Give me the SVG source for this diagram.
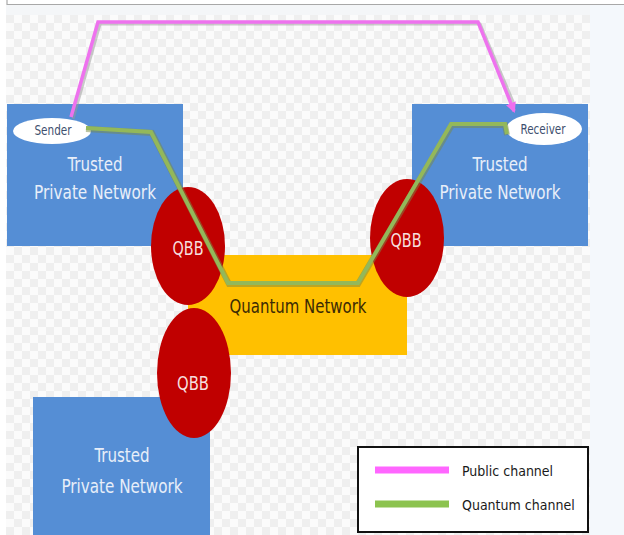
<svg xmlns="http://www.w3.org/2000/svg" width="624" height="535" viewBox="0 0 624 535">
<defs>
<pattern id="checker" x="6" y="15" width="16" height="16" patternUnits="userSpaceOnUse">
<rect width="16" height="16" fill="#fbfbfb"/>
<rect width="8" height="8" fill="#efefef"/>
<rect x="8" y="8" width="8" height="8" fill="#efefef"/>
</pattern>
<marker id="pinkArrow" viewBox="0 0 10 10" refX="8" refY="5" markerWidth="3" markerHeight="3" orient="auto" markerUnits="strokeWidth">
<path d="M0,0 L10,5 L0,10 z" fill="#ee6fee"/>
</marker>
</defs>
<style>
.net{fill:#558ed5}
.qbb{fill:#c00000}
.qn{fill:#ffc000}
.lbl{font-family:"DejaVu Sans Condensed","DejaVu Sans",sans-serif;font-size:20px;fill:#e8eef9;text-anchor:middle}
.qlbl{font-family:"DejaVu Sans Condensed","DejaVu Sans",sans-serif;font-size:19px;fill:#f6dede;text-anchor:middle}
.qnlbl{font-family:"DejaVu Sans Condensed","DejaVu Sans",sans-serif;font-size:20px;fill:#3b2a05;text-anchor:middle}
.ep{fill:#ffffff}
.eplbl{font-family:"DejaVu Sans Condensed","DejaVu Sans",sans-serif;font-size:14px;fill:#3e4f6e;text-anchor:middle}
.leg{font-family:"DejaVu Sans Condensed","DejaVu Sans",sans-serif;font-size:14px;fill:#1a1a1a}
.pub{fill:none;stroke:#ee72ee;stroke-width:3.5;stroke-linejoin:miter}
.pubsh{fill:none;stroke:#9a9a9a;stroke-width:3;opacity:0.5}
.qch{fill:none;stroke:#93b85a;stroke-width:4;stroke-linejoin:miter}
.qchsh{fill:none;stroke:#7a8a45;stroke-width:6;opacity:0.5}
</style>
<rect width="624" height="535" fill="#ffffff"/>
<rect x="6" y="5" width="618" height="10" fill="#f4f6f8"/>
<rect x="6" y="15" width="584" height="520" fill="url(#checker)"/>
<rect x="590" y="5" width="34" height="530" fill="#f4f8fc"/>
<line x1="7" y1="4.5" x2="624" y2="4.5" stroke="#a8a8a8" stroke-width="1.2"/>
<line x1="7" y1="0" x2="7" y2="5" stroke="#a8a8a8" stroke-width="1.2"/>

<g id="tpn-top-left">
<rect class="net" x="7" y="104" width="176" height="142"/>
<text class="lbl" x="95" y="171" textLength="55" lengthAdjust="spacingAndGlyphs">Trusted</text>
<text class="lbl" x="95" y="199" textLength="122" lengthAdjust="spacingAndGlyphs">Private Network</text>
</g>
<g id="tpn-top-right">
<rect class="net" x="412" y="104" width="176" height="142"/>
<text class="lbl" x="500" y="171" textLength="55" lengthAdjust="spacingAndGlyphs">Trusted</text>
<text class="lbl" x="500" y="199" textLength="121" lengthAdjust="spacingAndGlyphs">Private Network</text>
</g>
<g id="tpn-bottom-left">
<rect class="net" x="33" y="397" width="177" height="138"/>
<text class="lbl" x="122" y="462" textLength="55" lengthAdjust="spacingAndGlyphs">Trusted</text>
<text class="lbl" x="122" y="493" textLength="121" lengthAdjust="spacingAndGlyphs">Private Network</text>
</g>
<g id="quantum-network">
<rect class="qn" x="188" y="255" width="219" height="100"/>
<text class="qnlbl" x="298" y="313" textLength="137" lengthAdjust="spacingAndGlyphs">Quantum Network</text>
</g>
<g id="qbb-left">
<ellipse class="qbb" cx="188" cy="246" rx="37" ry="59"/>
<text class="qlbl" x="188" y="255" textLength="31" lengthAdjust="spacingAndGlyphs">QBB</text>
</g>
<g id="qbb-right">
<ellipse class="qbb" cx="407" cy="238" rx="37" ry="59"/>
<text class="qlbl" x="406" y="247" textLength="31" lengthAdjust="spacingAndGlyphs">QBB</text>
</g>
<g id="qbb-bottom">
<ellipse class="qbb" cx="194" cy="373" rx="37" ry="65"/>
<text class="qlbl" x="193" y="390" textLength="32" lengthAdjust="spacingAndGlyphs">QBB</text>
</g>
<g id="sender">
<ellipse class="ep" cx="52" cy="131" rx="39" ry="13"/>
<text class="eplbl" x="53" y="135" textLength="37" lengthAdjust="spacingAndGlyphs">Sender</text>
</g>
<g id="receiver">
<ellipse class="ep" cx="544" cy="129" rx="38" ry="16"/>
<text class="eplbl" x="543" y="134" textLength="45" lengthAdjust="spacingAndGlyphs">Receiver</text>
</g>

<g id="connectors">
<polyline class="pubsh" points="73,119 100,24 480,24 514,104"/>
<polyline class="pub" points="71,117 98,22 478,22 514,111" marker-end="url(#pinkArrow)"/>
<polyline class="qchsh" points="86,129 152,133 229,284 358,284 452,125 505,125 507,135"/>
<polyline class="qch" points="86,128 151,132 228,283 358,283 451,124 505,124 507,134"/>
</g>

<g id="legend">
<rect x="358" y="447" width="230" height="85" fill="#ffffff" stroke="#111111" stroke-width="2"/>
<line x1="375" y1="470" x2="449" y2="470" stroke="#ff66ff" stroke-width="7"/>
<line x1="375" y1="504" x2="449" y2="504" stroke="#8cc34f" stroke-width="7"/>
<text class="leg" x="462" y="476">Public channel</text>
<text class="leg" x="462" y="510">Quantum channel</text>
</g>
</svg>
